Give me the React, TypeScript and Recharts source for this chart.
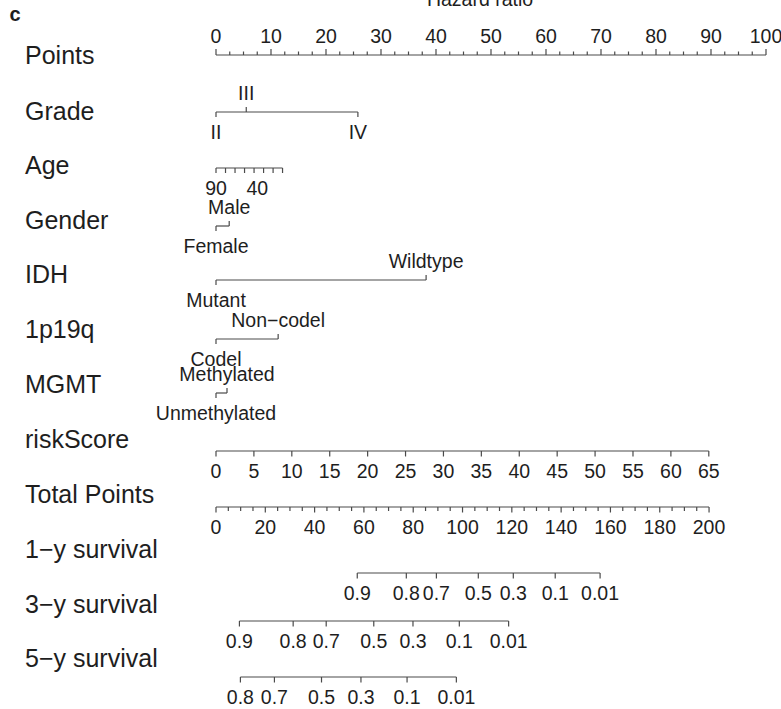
import React from "react";
import { ComposedChart, Scatter, XAxis, YAxis } from "recharts";

// rows of the nomogram
const ROW_NAMES = ["Points", "Grade", "Age", "Gender", "IDH", "1p19q", "MGMT", "riskScore", "Total Points", "1−y survival", "3−y survival", "5−y survival"];

// points scale (0-100)
const POINT_MAJOR = [0, 10, 20, 30, 40, 50, 60, 70, 80, 90, 100];
const POINT_MINOR_STEP = 2.5;

// factor levels and their points
const GRADE_LEVELS = ["II", "III", "IV"];
const GRADE_POINTS = [0, 5.5, 25.8];
const AGE_TICK_POINTS = [0, 1.73, 3.46, 5.19, 6.92, 8.65, 10.38, 12.1];
const AGE_LABELS = ["90", "40"];
const AGE_LABEL_POINTS = [0, 7.5];
const GENDER_LEVELS = ["Female", "Male"];
const GENDER_POINTS = [0, 2.4];
const IDH_LEVELS = ["Mutant", "Wildtype"];
const IDH_POINTS = [0, 38.2];
const CODEL_LEVELS = ["Codel", "Non−codel"];
const CODEL_POINTS = [0, 11.3];
const MGMT_LEVELS = ["Unmethylated", "Methylated"];
const MGMT_POINTS = [0, 2.0];

// riskScore: 0..65 spans 0..89.6 points
const RISK_TICKS = [0, 5, 10, 15, 20, 25, 30, 35, 40, 45, 50, 55, 60, 65];
const RISK_MAX = 65;
const RISK_MAX_POINTS = 89.6;

// total points scale
const TOTAL_MAJOR = [0, 20, 40, 60, 80, 100, 120, 140, 160, 180, 200];
const TOTAL_MINOR_STEP = 5;
const TOTAL_AXIS_MAX = 223.1; // total points at the right end of the points axis

// survival probabilities -> total points
const SURV1_LABELS = ["0.9", "0.8", "0.7", "0.5", "0.3", "0.1", "0.01"];
const SURV1_TOTAL = [57.3, 77.2, 89.4, 106.4, 120.6, 137.6, 155.8];
const SURV3_LABELS = ["0.9", "0.8", "0.7", "0.5", "0.3", "0.1", "0.01"];
const SURV3_TOTAL = [9.5, 31.3, 44.7, 64.0, 79.9, 98.7, 118.7];
const SURV5_LABELS = ["0.8", "0.7", "0.5", "0.3", "0.1", "0.01"];
const SURV5_TOTAL = [9.9, 23.7, 42.8, 58.8, 77.5, 97.5];

// layout (pixel rows)
const NAME_Y = [64, 120, 174, 229, 283, 338, 393, 448, 503, 558, 613, 667];
const LINE_Y = [55, 112, 168, 226, 280, 339, 393, 451, 507, 573, 621, 677];

const W = 781;
const H = 709;
const INK = "#1e1e1e";
const RULE = "#4a4a4a";
const FONT = "'Liberation Sans', Arial, sans-serif";

type Tk = { x: number; y: number; dir: "up" | "down"; len: number; label?: string };

// first level below the line, second level above (alternating)
function factorRow(levels: string[], pts: number[], row: number): Tk[] {
  return levels.map((l, i) => ({ x: pts[i], y: LINE_Y[row], dir: i % 2 === 1 ? "up" : "down", len: 5, label: l }));
}

const pointsRow: Tk[] = [];
for (let v = 0; v <= 100; v += POINT_MINOR_STEP) {
  const major = POINT_MAJOR.includes(v);
  pointsRow.push({ x: v, y: LINE_Y[0], dir: "up", len: major ? 6 : 3.5, label: major ? String(v) : undefined });
}

const ageRow: Tk[] = AGE_TICK_POINTS.map((p) => ({ x: p, y: LINE_Y[2], dir: "down", len: 5 }));
const ageLabels: Tk[] = AGE_LABELS.map((l, i) => ({ x: AGE_LABEL_POINTS[i], y: LINE_Y[2], dir: "down", len: 0, label: l }));

const riskRow: Tk[] = RISK_TICKS.map((r) => ({ x: (r / RISK_MAX) * RISK_MAX_POINTS, y: LINE_Y[7], dir: "down", len: 5.5, label: String(r) }));

const totalRow: Tk[] = [];
for (let v = 0; v <= 200; v += TOTAL_MINOR_STEP) {
  const major = TOTAL_MAJOR.includes(v);
  totalRow.push({ x: v, y: LINE_Y[8], dir: "down", len: major ? 5.5 : 4, label: major ? String(v) : undefined });
}

const survRow = (labels: string[], tot: number[], row: number): Tk[] =>
  labels.map((l, i) => ({ x: tot[i], y: LINE_Y[row], dir: "down", len: 5.5, label: l }));

function Mark(props: any) {
  const { cx, cy, payload } = props;
  if (cx == null || cy == null) return null;
  const up = payload.dir === "up";
  return (
    <g>
      {payload.len > 0 && (
        <line x1={cx} x2={cx} y1={cy} y2={up ? cy - payload.len : cy + payload.len} stroke={RULE} strokeWidth={1.2} />
      )}
      {payload.label && (
        <text x={cx} y={up ? cy - 12 : cy + 26.5} textAnchor="middle" fontSize={19.5} fontFamily={FONT} fill={INK}>
          {payload.label}
        </text>
      )}
    </g>
  );
}

function RowName(props: any) {
  const { y, index } = props;
  return (
    <text x={25} y={y} fontSize={25} fontFamily={FONT} fill={INK}>
      {ROW_NAMES[index]}
    </text>
  );
}

const ptsSeries: Tk[][] = [
  pointsRow,
  factorRow(GRADE_LEVELS, GRADE_POINTS, 1),
  ageRow,
  factorRow(GENDER_LEVELS, GENDER_POINTS, 3),
  factorRow(IDH_LEVELS, IDH_POINTS, 4),
  factorRow(CODEL_LEVELS, CODEL_POINTS, 5),
  factorRow(MGMT_LEVELS, MGMT_POINTS, 6),
  riskRow,
];
const totSeries: Tk[][] = [totalRow, survRow(SURV1_LABELS, SURV1_TOTAL, 9), survRow(SURV3_LABELS, SURV3_TOTAL, 10), survRow(SURV5_LABELS, SURV5_TOTAL, 11)];

export default function App() {
  return (
    <div style={{ position: "absolute", left: 0, top: 0, width: W, height: H, background: "#fff", overflow: "hidden" }}>
      <ComposedChart width={W} height={H} margin={{ top: 0, right: 15, left: 0, bottom: 0 }} style={{ overflow: "visible" }}>
        <XAxis xAxisId="pts" type="number" dataKey="x" domain={[0, 100]} hide />
        <XAxis xAxisId="tot" type="number" dataKey="x" domain={[0, TOTAL_AXIS_MAX]} hide />
        <YAxis
          type="number"
          dataKey="y"
          domain={[0, H]}
          reversed
          width={216}
          ticks={NAME_Y}
          interval={0}
          axisLine={false}
          tickLine={false}
          tick={<RowName />}
        />
        {ptsSeries.map((d, i) => (
          <Scatter key={"p" + i} xAxisId="pts" data={d} line={{ stroke: RULE, strokeWidth: 1.2 }} shape={<Mark />} isAnimationActive={false} />
        ))}
        <Scatter xAxisId="pts" data={ageLabels} shape={<Mark />} isAnimationActive={false} />
        {totSeries.map((d, i) => (
          <Scatter key={"t" + i} xAxisId="tot" data={d} line={{ stroke: RULE, strokeWidth: 1.2 }} shape={<Mark />} isAnimationActive={false} />
        ))}
      </ComposedChart>
      <svg width={W} height={H} style={{ position: "absolute", left: 0, top: 0, pointerEvents: "none" }}>
        <text x={15} y={21} textAnchor="middle" fontSize={20} fontWeight="bold" fontFamily={FONT} fill={INK}>c</text>
        <text x={480} y={6} textAnchor="middle" fontSize={19.5} fontFamily={FONT} fill={INK}>Hazard ratio</text>
      </svg>
    </div>
  );
}
